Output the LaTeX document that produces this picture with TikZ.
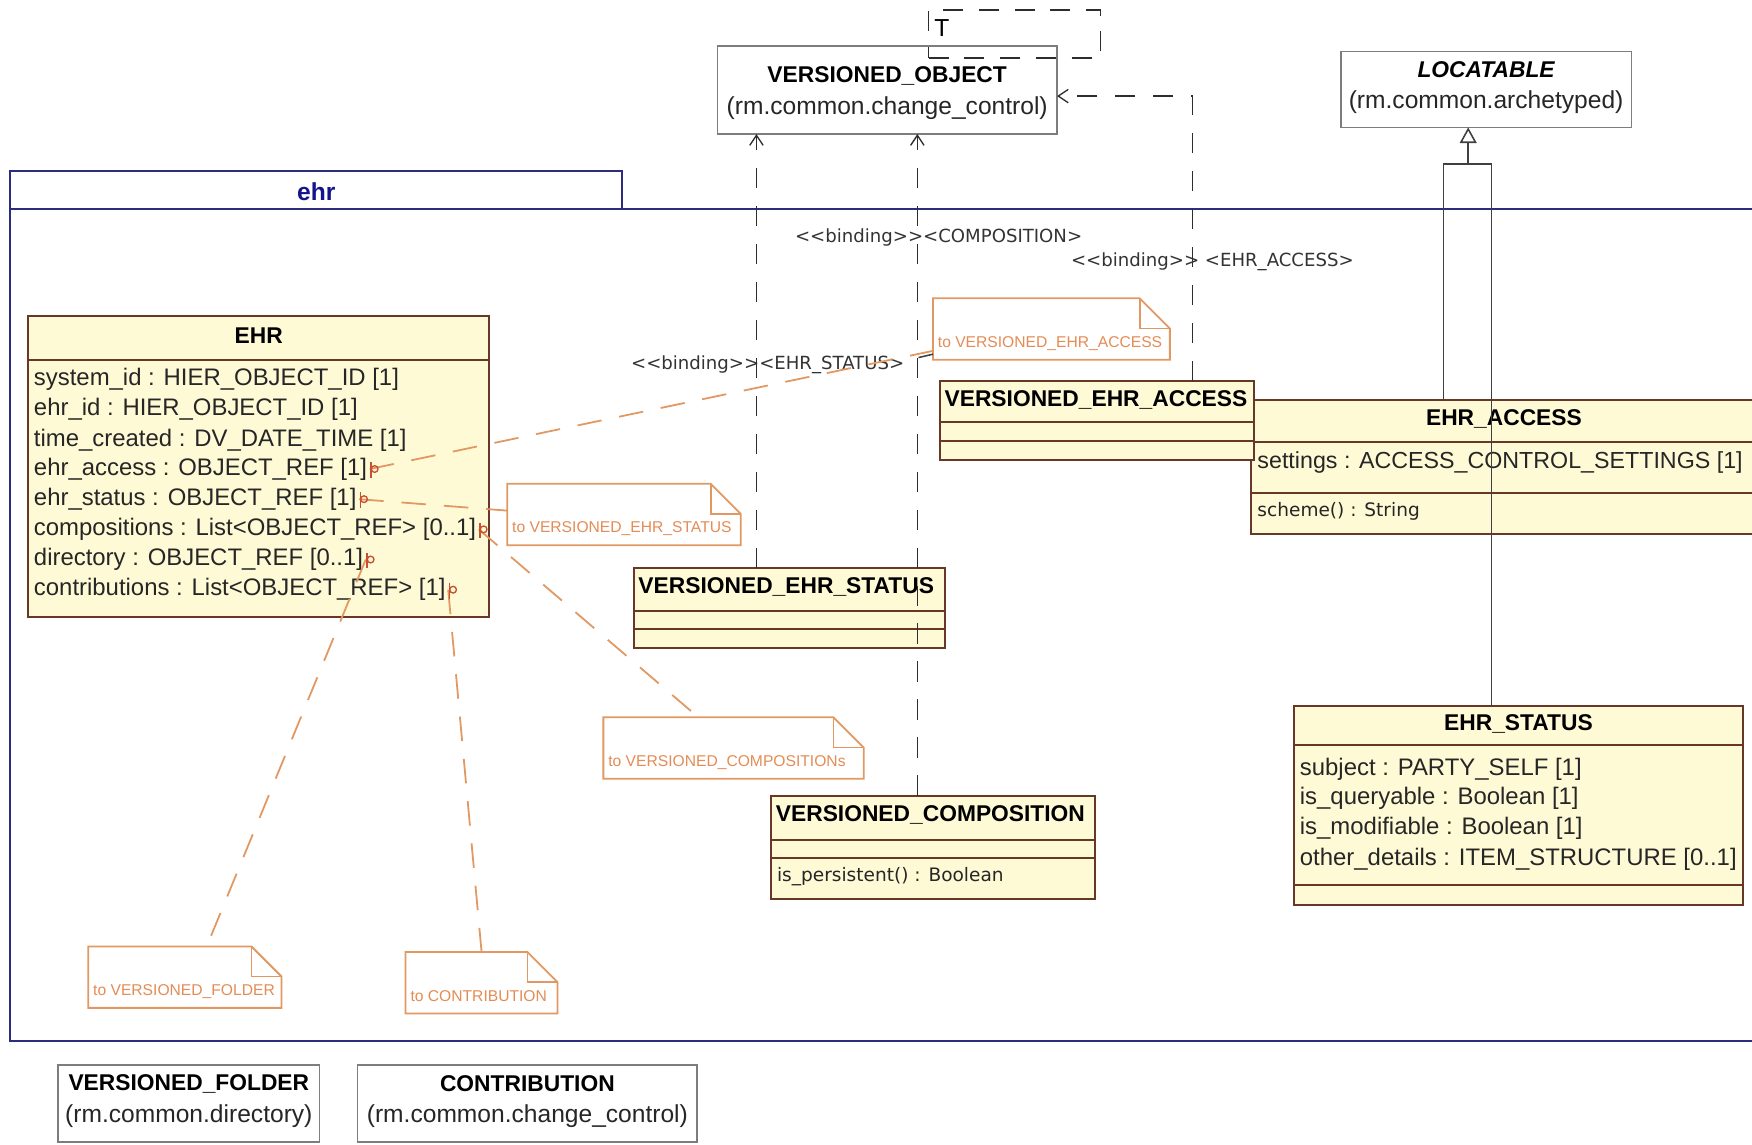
\documentclass[tikz,border=0pt]{standalone}
\usepackage{fontspec}
\setmainfont{Liberation Sans}
\newfontfamily\dvfont{DejaVu Sans}
\usetikzlibrary{arrows.meta,fit}
\definecolor{clsfill}{RGB}{255,250,214}
\definecolor{clsdraw}{RGB}{105,55,40}
\definecolor{graybox}{RGB}{125,125,125}
\definecolor{pkgc}{RGB}{45,45,125}
\definecolor{pkgtxt}{RGB}{20,20,140}
\definecolor{notec}{RGB}{226,152,98}
\definecolor{notetxt}{RGB}{228,140,85}
\definecolor{depc}{RGB}{45,45,45}
\definecolor{anchc}{RGB}{200,80,50}
\tikzset{
  box/.style={inner sep=0pt, outer sep=0pt},
  clsbox/.style={box, draw=clsdraw, fill=clsfill, line width=0.9pt},
  refbox/.style={box, draw=graybox, fill=white, line width=0.7pt},
  sepline/.style={draw=clsdraw, line width=0.9pt},
  ttl/.style={font=\fontsize{10.2}{12}\selectfont\bfseries, inner sep=0pt},
  ttlw/.style={ttl, anchor=west},
  sub/.style={font=\fontsize{11}{13}\selectfont, inner sep=0pt, text=black!85},
  attr/.style={font=\fontsize{10.7}{13}\selectfont, inner sep=0pt, anchor=mid west, text=black!85},
  meth/.style={font=\dvfont\fontsize{8.3}{10}\selectfont, inner sep=0pt, anchor=mid west, text=black!85},
  lbl/.style={font=\dvfont\fontsize{8.1}{10}\selectfont, inner sep=0pt, text=black!80},
  dep/.style={draw=depc, line width=0.6pt, dash pattern=on 9pt off 8pt, -{Straight Barb[length=4.5pt,width=6pt]}},
  dashbox/.style={box, draw=depc, line width=0.6pt, dash pattern=on 9pt off 7pt},
  notedash/.style={draw=notec, line width=0.8pt, dash pattern=on 11pt off 8pt},
  noteline/.style={draw=notec, line width=0.8pt},
  notetext/.style={font=\fontsize{7}{8}\selectfont, text=notetxt, inner sep=0pt, anchor=base west},
  gen/.style={draw=black!75, line width=0.7pt},
  pkgline/.style={draw=pkgc, line width=0.9pt},
  anchmark/.style={draw=anchc, line width=0.6pt},
}
\newcommand\mynote[6]{%
  \node[box, fit={(#2,#3) (#4,#5)}] (#1) {};
  \fill[white] (#2,#3) -- ({#4-27},#3) -- (#4,{#3+27}) -- (#4,#5) -- (#2,#5) -- cycle;
  \draw[noteline] (#2,#3) -- ({#4-27},#3) -- (#4,{#3+27}) -- (#4,#5) -- (#2,#5) -- cycle;
  \draw[noteline] ({#4-27},#3) -- ({#4-27},{#3+27}) -- (#4,{#3+27});
  \node[notetext] (#1t) at ({#2+4},{#5-11}) {#6};
}
\newcommand\anchmk[1]{%
  \draw[anchmark] ([xshift=2.2pt]#1) circle[radius=1.5pt];
  \draw[anchmark] ([xshift=0.6pt,yshift=3pt]#1) -- ([xshift=0.6pt,yshift=-4pt]#1);
}
\begin{document}
\begin{tikzpicture}[x=0.5pt,y=-0.5pt]
\useasboundingbox (0,0) rectangle (1568,1024);
\clip (0,0) rectangle (1568,1024);
\fill[white] (0,0) rectangle (1568,1024);

% package ehr
\draw[pkgline] (9,187) rectangle (1590,932);
\draw[pkgline] (9,153) rectangle (557,187);
\node[font=\fontsize{11}{13}\selectfont\bfseries, text=pkgtxt, inner sep=0pt] (pkglbl) at (283,172) {ehr};

% VERSIONED_OBJECT
\node[refbox, fit={(642,41) (946,120)}] (vo) {};
\node[ttl] (voT) at (794,68) {VERSIONED\_OBJECT};
\node[sub] (voS) at (794,97) {(rm.common.change\_control)};
\node[dashbox, fit={(831,9) (985,52)}] (tp) {};
\node[font=\fontsize{11}{13}\selectfont, inner sep=0pt] (tpT) at (843,25) {T};

% LOCATABLE
\node[refbox, fit={(1200,46) (1460,114)}] (loc) {};
\node[ttl, font=\fontsize{10.2}{12}\selectfont\bfseries\itshape] (locT) at (1330,62) {LOCATABLE};
\node[sub] (locS) at (1330,91) {(rm.common.archetyped)};

% EHR_ACCESS
\node[clsbox, fit={(1120,358) (1580,478)}] (ehracc) {};
\draw[sepline] (1120,396) -- (1580,396);
\draw[sepline] (1120,441) -- (1580,441);
\node[ttl] (eaT) at (1346,375) {EHR\_ACCESS};
\node[attr, font=\fontsize{10.4}{13}\selectfont] (ea1) at (1125,414) {settings : ACCESS\_CONTROL\_SETTINGS [1]};
\node[meth] (ea2) at (1125,457) {scheme() : String};

% VERSIONED_EHR_ACCESS
\node[clsbox, fit={(841,341) (1122,412)}] (vea) {};
\draw[sepline] (841,378) -- (1122,378);
\draw[sepline] (841,395) -- (1122,395);
\node[ttlw] (veaT) at (845,358) {VERSIONED\_EHR\_ACCESS};

% VERSIONED_EHR_STATUS
\node[clsbox, fit={(567,508) (846,580)}] (vehrs) {};
\draw[sepline] (567,547) -- (846,547);
\draw[sepline] (567,563) -- (846,563);
\node[ttlw] (vehrsT) at (571,525) {VERSIONED\_EHR\_STATUS};

% VERSIONED_COMPOSITION
\node[clsbox, fit={(690,712) (980,805)}] (vcomp) {};
\draw[sepline] (690,752) -- (980,752);
\draw[sepline] (690,768) -- (980,768);
\node[ttlw] (vcompT) at (694,729) {VERSIONED\_COMPOSITION};
\node[meth] (vc1) at (695,784) {is\_persistent() : Boolean};

% EHR
\node[clsbox, fit={(25,283) (438,552)}] (ehr) {};
\draw[sepline] (25,322) -- (438,322);
\node[ttl] (ehrT) at (231.5,300) {EHR};
\node[attr] (e1) at (30,340) {system\_id : HIER\_OBJECT\_ID [1]};
\node[attr] (e2) at (30,367) {ehr\_id : HIER\_OBJECT\_ID [1]};
\node[attr] (e3) at (30,394) {time\_created : DV\_DATE\_TIME [1]};
\node[attr] (e4) at (30,420) {ehr\_access : OBJECT\_REF [1]};
\node[attr] (e5) at (30,447) {ehr\_status : OBJECT\_REF [1]};
\node[attr] (e6) at (30,474) {compositions : List<OBJECT\_REF> [0..1]};
\node[attr] (e7) at (30,501) {directory : OBJECT\_REF [0..1]};
\node[attr] (e8) at (30,528) {contributions : List<OBJECT\_REF> [1]};

% EHR_STATUS
\node[clsbox, fit={(1158,632) (1560,810)}] (ehrst) {};
\draw[sepline] (1158,667) -- (1560,667);
\draw[sepline] (1158,792) -- (1560,792);
\node[ttl] (esT) at (1359,648) {EHR\_STATUS};
\node[attr] (es1) at (1163,689) {subject : PARTY\_SELF [1]};
\node[attr] (es2) at (1163,715) {is\_queryable : Boolean [1]};
\node[attr] (es3) at (1163,742) {is\_modifiable : Boolean [1]};
\node[attr] (es4) at (1163,769) {other\_details : ITEM\_STRUCTURE [0..1]};

% VERSIONED_FOLDER, CONTRIBUTION
\node[refbox, fit={(52,953) (286,1022)}] (vf) {};
\node[ttl] (vfT) at (169,970) {VERSIONED\_FOLDER};
\node[sub] (vfS) at (169,999) {(rm.common.directory)};
\node[refbox, fit={(320,953) (624,1022)}] (con) {};
\node[ttl] (conT) at (472,970) {CONTRIBUTION};
\node[sub] (conS) at (472,999) {(rm.common.change\_control)};

% notes
\mynote{ntvea}{835}{267}{1047}{322}{to VERSIONED\_EHR\_ACCESS}
\mynote{ntvehrs}{454}{433}{663}{488}{to VERSIONED\_EHR\_STATUS}
\mynote{ntvc}{540}{642}{773}{697}{to VERSIONED\_COMPOSITIONs}
\mynote{ntvf}{79}{847}{252}{902}{to VERSIONED\_FOLDER}
\mynote{ntcon}{363}{852}{499}{907}{to CONTRIBUTION}

% generalization
\coordinate (gj) at (1314,147);
\draw[gen] (ehracc.north -| 1292,0) |- (gj) -| (ehrst.north -| 1335,0);
\draw[gen, -{Triangle[open, length=7pt, width=7.5pt, fill=white]}] (gj) -- (loc.south -| gj);

% bindings
\draw[dep] (vehrs.north -| 677,0) -- (vo.south -| 677,0);
\draw[dep] (vcomp.north -| 821,0) -- (vo.south -| 821,0);
\draw[dep] (vea.north -| 1067,0) |- (vo.east |- 0,86);
\coordinate (nb) at (822,320);
\draw[gen] (nb) -- (ntvea.west |- 0,317);

\node[lbl] (b1) at (687,326) {<\kern0pt<binding>\kern0pt><EHR\_STATUS>};
\node[lbl] (b2) at (840,213) {<\kern0pt<binding>\kern0pt><COMPOSITION>};
\node[lbl] (b3) at (1085,234) {<\kern0pt<binding>\kern0pt> <EHR\_ACCESS>};

% note links
\coordinate (p4) at ([xshift=1pt]e4.east);
\coordinate (p5) at ([xshift=1pt]e5.east);
\coordinate (p6) at ([xshift=1pt]e6.east);
\coordinate (p7) at ([xshift=1pt]e7.east);
\coordinate (p8) at ([xshift=1pt]e8.east);
\draw[notedash] (p4) -- (ntvea.west |- 0,314);
\draw[notedash] (p5) -- (ntvehrs.west |- 0,457);
\draw[notedash] (p6) -- (ntvc.north -| 625,0);
\draw[notedash] (p7) -- (ntvf.north -| 185,0);
\draw[notedash] (p8) -- (ntcon.north);
\anchmk{p4}
\anchmk{p5}
\anchmk{p6}
\anchmk{p7}
\anchmk{p8}
\end{tikzpicture}
\end{document}
